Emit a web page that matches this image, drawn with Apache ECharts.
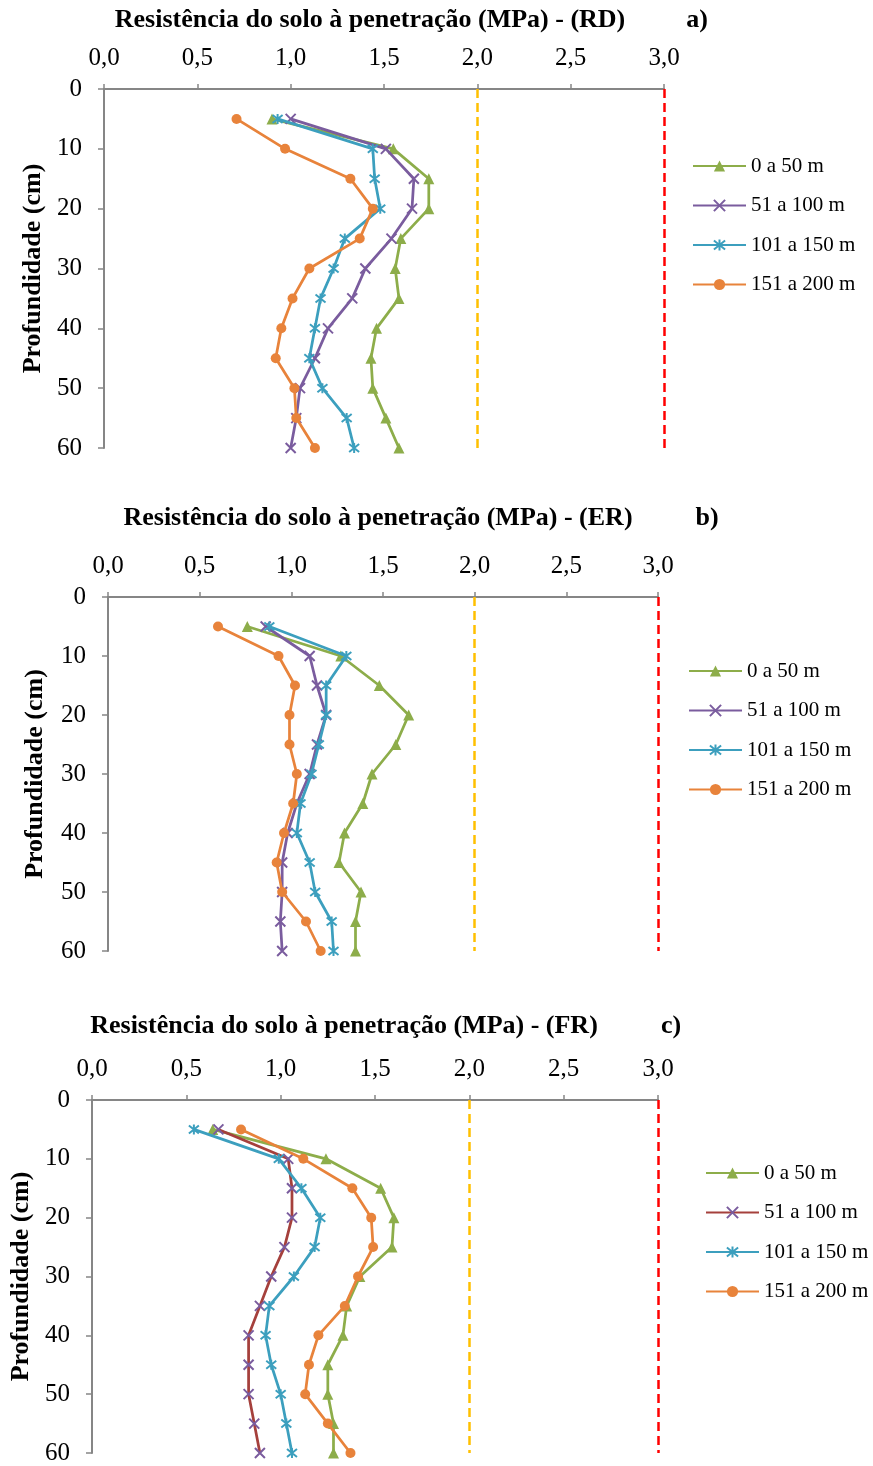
<!DOCTYPE html>
<html>
<head>
<meta charset="utf-8">
<script src="https://cdn.jsdelivr.net/npm/echarts@6/dist/echarts.min.js"></script>
<style>
  html, body { margin: 0; padding: 0; background: #ffffff; }
  #chart { width: 873px; height: 1466px; }
</style>
</head>
<body>
<div id="chart"></div>
<script>
// Soil penetration resistance (MPa) by depth (cm), three profiles.
const depths = [5, 10, 15, 20, 25, 30, 35, 40, 45, 50, 55, 60];
const rangeLabels = ['0 a 50 m', '51 a 100 m', '101 a 150 m', '151 a 200 m'];
const titleRD = 'Resistência do solo à penetração (MPa) - (RD)';
const titleER = 'Resistência do solo à penetração (MPa) - (ER)';
const titleFR = 'Resistência do solo à penetração (MPa) - (FR)';
const panelTags = ['a)', 'b)', 'c)'];
const yAxisTitle = 'Profundidade (cm)';
const limitWarn = 2.0;
const limitCrit = 3.0;

// RD
const rd_0_50    = [0.90, 1.55, 1.74, 1.74, 1.59, 1.56, 1.58, 1.46, 1.43, 1.44, 1.51, 1.58];
const rd_51_100  = [1.00, 1.51, 1.66, 1.65, 1.54, 1.40, 1.33, 1.20, 1.13, 1.05, 1.03, 1.00];
const rd_101_150 = [0.93, 1.44, 1.45, 1.48, 1.29, 1.23, 1.16, 1.13, 1.10, 1.17, 1.30, 1.34];
const rd_151_200 = [0.71, 0.97, 1.32, 1.44, 1.37, 1.10, 1.01, 0.95, 0.92, 1.02, 1.03, 1.13];

// ER
const er_0_50    = [0.76, 1.27, 1.48, 1.64, 1.57, 1.44, 1.39, 1.29, 1.26, 1.38, 1.35, 1.35];
const er_51_100  = [0.86, 1.10, 1.14, 1.19, 1.14, 1.10, 1.03, 0.98, 0.95, 0.95, 0.94, 0.95];
const er_101_150 = [0.88, 1.30, 1.19, 1.19, 1.15, 1.11, 1.05, 1.03, 1.10, 1.13, 1.22, 1.23];
const er_151_200 = [0.60, 0.93, 1.02, 0.99, 0.99, 1.03, 1.01, 0.96, 0.92, 0.95, 1.08, 1.16];

// FR
const fr_0_50    = [0.64, 1.24, 1.53, 1.60, 1.59, 1.42, 1.35, 1.33, 1.25, 1.25, 1.28, 1.28];
const fr_51_100  = [0.67, 1.04, 1.06, 1.06, 1.02, 0.95, 0.89, 0.83, 0.83, 0.83, 0.86, 0.89];
const fr_101_150 = [0.54, 0.99, 1.11, 1.21, 1.18, 1.07, 0.94, 0.92, 0.95, 1.00, 1.03, 1.06];
const fr_151_200 = [0.79, 1.12, 1.38, 1.48, 1.49, 1.41, 1.34, 1.20, 1.15, 1.13, 1.25, 1.37];

const FONT = '"Liberation Serif", "Times New Roman", serif';
const AXIS_GRAY = '#868686';
const GREEN = '#8DAD4A';
const PURPLE = '#7A5C9E';
const TEAL = '#3C9FBE';
const ORANGE = '#E8833B';
const DARK_RED = '#A5403C';

const SYM_X = 'path://M1,1L9,9M9,1L1,9';
const SYM_STAR = 'path://M1,1L9,9M9,1L1,9M5,0L5,10';

// Marker/line look for each depth range (panel c draws 51–100 m with a red line)
const looks = [
  { symbol: 'triangle', size: 11, line: GREEN, mark: GREEN, stroke: 0 },
  { symbol: SYM_X, size: 10, line: PURPLE, mark: PURPLE, stroke: 2 },
  { symbol: SYM_STAR, size: 10, line: TEAL, mark: TEAL, stroke: 2 },
  { symbol: 'circle', size: 10, line: ORANGE, mark: ORANGE, stroke: 0 }
];

const panels = [
  { key: 'a', title: titleRD, values: [rd_0_50, rd_51_100, rd_101_150, rd_151_200],
    grid: { left: 104, top: 89, width: 560, height: 359 },
    titleX: 370, titleY: 20, tagX: 697, nameGap: 57,
    legend: { left: 687, top: 150 }, lineOverride: {} },
  { key: 'b', title: titleER, values: [er_0_50, er_51_100, er_101_150, er_151_200],
    grid: { left: 108, top: 597, width: 550, height: 354 },
    titleX: 378, titleY: 518, tagX: 707, nameGap: 60,
    legend: { left: 683, top: 655 }, lineOverride: {} },
  { key: 'c', title: titleFR, values: [fr_0_50, fr_51_100, fr_101_150, fr_151_200],
    grid: { left: 92, top: 1100, width: 566, height: 353 },
    titleX: 344, titleY: 1026, tagX: 671, nameGap: 58,
    legend: { left: 700, top: 1157 }, lineOverride: { 1: DARK_RED } }
];

const grids = [], xAxes = [], yAxes = [], series = [], legends = [], graphics = [];

panels.forEach((p, i) => {
  grids.push(p.grid);
  xAxes.push({
    type: 'value', gridIndex: i, position: 'top',
    min: 0, max: 3, interval: 0.5,
    splitLine: { show: false },
    axisLine: { show: true, lineStyle: { color: AXIS_GRAY, width: 2 } },
    axisTick: { show: true, length: 5, lineStyle: { color: AXIS_GRAY, width: 1.5 } },
    axisLabel: {
      margin: 18, color: '#000', fontFamily: FONT, fontSize: 25,
      formatter: v => v.toFixed(1).replace('.', ',')
    }
  });
  yAxes.push({
    type: 'value', gridIndex: i, inverse: true,
    min: 0, max: 60, interval: 10,
    splitLine: { show: false },
    axisLine: { show: true, lineStyle: { color: AXIS_GRAY, width: 2 } },
    axisTick: { show: true, length: 6, lineStyle: { color: AXIS_GRAY, width: 1.5 } },
    axisLabel: { margin: 22, color: '#000', fontFamily: FONT, fontSize: 25 },
    name: yAxisTitle, nameLocation: 'middle', nameRotate: 90, nameGap: p.nameGap,
    nameTextStyle: { color: '#000', fontFamily: FONT, fontSize: 26, fontWeight: 'bold' }
  });

  const names = [];
  rangeLabels.forEach((label, k) => {
    const look = looks[k];
    const lineColor = p.lineOverride[k] || look.line;
    const name = p.key + '/' + label;
    names.push(name);
    const s = {
      type: 'line', name, xAxisIndex: i, yAxisIndex: i,
      data: p.values[k].map((v, j) => [v, depths[j]]),
      symbol: look.symbol, symbolSize: look.size,
      lineStyle: { color: lineColor, width: 2.75 },
      itemStyle: { color: look.mark, borderColor: look.mark, borderWidth: look.stroke },
      emphasis: { disabled: true },
      z: 3 + k
    };
    if (k === 0) {
      s.markLine = {
        silent: true, symbol: 'none', label: { show: false },
        lineStyle: { type: [9, 5], width: 2.5 },
        data: [
          { xAxis: limitWarn, lineStyle: { color: '#FFC000', type: [9, 5], width: 2.5 } },
          { xAxis: limitCrit, lineStyle: { color: '#FF0000', type: [9, 5], width: 2.5 } }
        ]
      };
    }
    series.push(s);
  });

  legends.push({
    data: names, orient: 'vertical',
    left: p.legend.left, top: p.legend.top,
    itemWidth: 53, itemHeight: 14, itemGap: 17.5,
    selectedMode: false,
    formatter: n => n.split('/')[1],
    textStyle: { color: '#000', fontFamily: FONT, fontSize: 21, lineHeight: 22 }
  });

  graphics.push({
    type: 'text', x: p.titleX, y: p.titleY,
    style: { text: p.title, fill: '#000', font: 'bold 26px ' + FONT, align: 'center', verticalAlign: 'middle' }
  });
  graphics.push({
    type: 'text', x: p.tagX, y: p.titleY,
    style: { text: panelTags[i], fill: '#000', font: 'bold 26px ' + FONT, align: 'center', verticalAlign: 'middle' }
  });
});

const chart = echarts.init(document.getElementById('chart'), null, { renderer: 'canvas' });
chart.setOption({
  animation: false,
  backgroundColor: '#ffffff',
  grid: grids,
  xAxis: xAxes,
  yAxis: yAxes,
  legend: legends,
  series: series,
  graphic: graphics
});
</script>
</body>
</html>
